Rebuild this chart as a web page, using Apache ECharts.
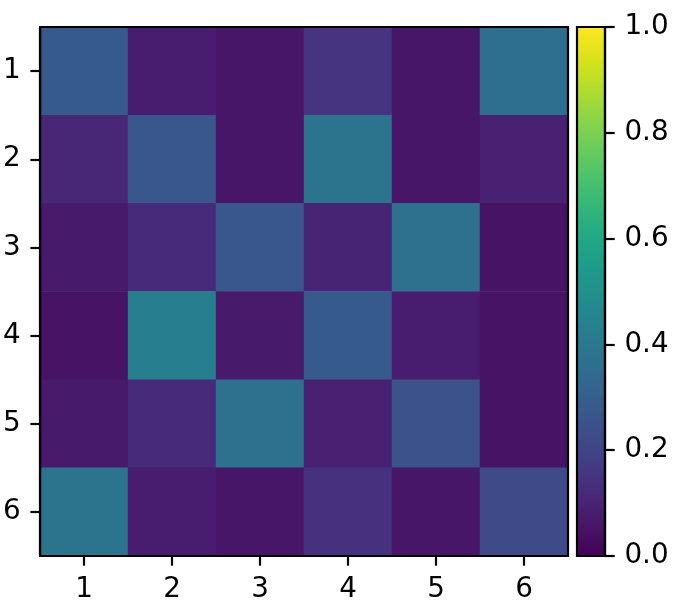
<!DOCTYPE html>
<html>
<head>
<meta charset="utf-8">
<script src="https://cdn.jsdelivr.net/npm/echarts@6/dist/echarts.min.js"></script>
<style>html,body{margin:0;padding:0;background:#fff;}#c{width:677px;height:612px;}</style>
</head>
<body>
<div id="c"></div>
<script>
const xCategories = ['1','2','3','4','5','6'];
const yCategories = ['1','2','3','4','5','6'];
const row1 = [0.28, 0.08, 0.06, 0.15, 0.06, 0.36];
const row2 = [0.11, 0.27, 0.06, 0.38, 0.06, 0.09];
const row3 = [0.07, 0.12, 0.27, 0.10, 0.37, 0.05];
const row4 = [0.05, 0.43, 0.07, 0.28, 0.08, 0.05];
const row5 = [0.07, 0.12, 0.37, 0.09, 0.25, 0.05];
const row6 = [0.38, 0.08, 0.06, 0.14, 0.06, 0.22];
const colorbarTicks = [0, 0.2, 0.4, 0.6, 0.8, 1.0];

const viridis = ['#440154','#471365','#482475','#463480','#414487','#3b528b','#355f8d','#2f6c8e','#2a788e','#25848e','#21918c','#1e9c89','#22a884','#2fb47c','#44bf70','#5ec962','#7ad151','#9bd93c','#bddf26','#dfe318','#fde725'];

const rows = [row1,row2,row3,row4,row5,row6];
const data = [];
rows.forEach((r, yi) => r.forEach((v, xi) => data.push([xi, yi, v])));

const FS = 27.8, TL = 9.7, LW = 2.2, M = 19.4;
const font = 'DejaVu Sans';
const chart = echarts.init(document.getElementById('c'), null, {renderer:'canvas'});
const stops = viridis.map((c, i) => ({offset: 1 - i/(viridis.length-1), color: c}));

chart.setOption({
  animation: false,
  grid: [
    {left: 39, top: 27, width: 529, height: 529, show: true, borderColor: '#000', borderWidth: LW, z: 10},
    {left: 577, top: 27, width: 28, height: 529, show: true, borderColor: '#000', borderWidth: LW, z: 10}
  ],
  xAxis: [
    {type: 'category', data: xCategories, gridIndex: 0, position: 'bottom',
     axisLine: {show: true, lineStyle: {color: '#000', width: LW}},
     axisTick: {show: true, alignWithLabel: true, length: TL, lineStyle: {color: '#000', width: LW}},
     axisLabel: {color: '#000', fontSize: FS, fontFamily: font, margin: M},
     splitLine: {show: false}, z: 10},
    {type: 'category', data: ['c'], gridIndex: 1, show: false}
  ],
  yAxis: [
    {type: 'category', data: yCategories, gridIndex: 0, inverse: true,
     axisLine: {show: true, lineStyle: {color: '#000', width: LW}},
     axisTick: {show: true, alignWithLabel: true, length: TL, lineStyle: {color: '#000', width: LW}},
     axisLabel: {color: '#000', fontSize: FS, fontFamily: font, margin: M},
     splitLine: {show: false}, z: 10},
    {type: 'value', gridIndex: 1, min: 0, max: 1, interval: 0.2, position: 'right',
     axisLine: {show: true, lineStyle: {color: '#000', width: LW}},
     axisTick: {show: true, length: TL, lineStyle: {color: '#000', width: LW}},
     axisLabel: {color: '#000', fontSize: FS, fontFamily: font, margin: M,
                 formatter: v => v.toFixed(1)},
     splitLine: {show: false}, z: 10}
  ],
  visualMap: {show: false, min: 0, max: 1, seriesIndex: 0, inRange: {color: viridis}},
  series: [
    {type: 'heatmap', xAxisIndex: 0, yAxisIndex: 0, data: data,
     itemStyle: {borderWidth: 0}, progressive: 0},
    {type: 'bar', xAxisIndex: 1, yAxisIndex: 1, data: [colorbarTicks[colorbarTicks.length-1]],
     barWidth: '100%', silent: true,
     itemStyle: {color: new echarts.graphic.LinearGradient(0, 0, 0, 1, stops)}}
  ]
});
</script>
</body>
</html>
